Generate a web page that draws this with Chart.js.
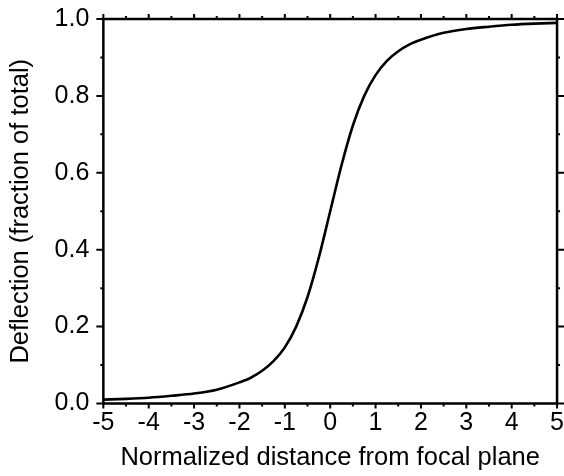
<!DOCTYPE html>
<html>
<head>
<meta charset="utf-8">
<script src="https://cdn.jsdelivr.net/npm/chart.js@4"></script>
<style>
  html, body { margin: 0; padding: 0; background: #fff; }
  #wrap { width: 564px; height: 476px; }
</style>
</head>
<body>
<div id="wrap"><canvas id="chart" width="564" height="476"></canvas></div>
<script>
// distance from focal plane (normalized) and deflection
const distance = [-5, -4.5, -4, -3.5, -3, -2.5, -2, -1.75, -1.5, -1.25, -1, -0.75, -0.5, -0.25,
  0, 0.25, 0.5, 0.75, 1, 1.25, 1.5, 1.75, 2, 2.5, 3, 3.5, 4, 4.5, 5];
const deflection = [0.010, 0.012, 0.015, 0.020, 0.026, 0.036, 0.055, 0.067, 0.085, 0.110, 0.146, 0.200, 0.277, 0.380,
  0.500, 0.620, 0.723, 0.800, 0.854, 0.891, 0.916, 0.934, 0.946, 0.964, 0.974, 0.980, 0.985, 0.988, 0.990];

const xMajor = [-5, -4, -3, -2, -1, 0, 1, 2, 3, 4, 5];
const xMinor = [-4.5, -3.5, -2.5, -1.5, -0.5, 0.5, 1.5, 2.5, 3.5, 4.5];
const yMajor = [0, 0.2, 0.4, 0.6, 0.8, 1.0];
const yMinor = [0.1, 0.3, 0.5, 0.7, 0.9];

const FONT = '"Liberation Sans", Arial, Helvetica, sans-serif';

// frame + outward ticks on all four sides
const frameTicks = {
  id: 'frameTicks',
  afterDraw(chart) {
    const { ctx, chartArea: a, scales: { x, y } } = chart;
    ctx.save();
    ctx.strokeStyle = '#000';
    ctx.lineWidth = 2;
    const tick = (list, len) => {
      list.forEach(v => {
        const px = x.getPixelForValue(v);
        ctx.beginPath();
        ctx.moveTo(px, a.bottom); ctx.lineTo(px, a.bottom + len);
        ctx.moveTo(px, a.top); ctx.lineTo(px, a.top - len);
        ctx.stroke();
      });
    };
    const tickY = (list, len) => {
      list.forEach(v => {
        const py = y.getPixelForValue(v);
        ctx.beginPath();
        ctx.moveTo(a.left, py); ctx.lineTo(a.left - len, py);
        ctx.moveTo(a.right, py); ctx.lineTo(a.right + len, py);
        ctx.stroke();
      });
    };
    tick(xMajor, 5); tick(xMinor, 3);
    tickY(yMajor, 7); tickY(yMinor, 3);
    ctx.lineWidth = 2.5;
    ctx.strokeRect(a.left, a.top, a.right - a.left, a.bottom - a.top);
    ctx.restore();
  }
};

// invisible tick marks are used only to space the labels away from the frame
const hiddenGrid = len => ({ display: true, drawOnChartArea: false, drawTicks: true,
  tickLength: len, tickColor: 'rgba(0,0,0,0)' });

new Chart(document.getElementById('chart'), {
  type: 'scatter',
  data: {
    datasets: [{
      data: distance.map((d, i) => ({ x: d, y: deflection[i] })),
      showLine: true,
      borderColor: '#000',
      borderWidth: 2.6,
      pointRadius: 0,
      cubicInterpolationMode: 'monotone',
    }]
  },
  options: {
    responsive: false,
    animation: false,
    layout: { padding: { left: 6, right: 0, top: 19, bottom: 5 } },
    plugins: { legend: { display: false }, tooltip: { enabled: false } },
    scales: {
      x: {
        type: 'linear', min: -5, max: 5,
        grid: hiddenGrid(7),
        border: { display: false },
        afterBuildTicks: s => { s.ticks = xMajor.map(v => ({ value: v })); },
        ticks: { color: '#000', padding: 0, font: { family: FONT, size: 25, lineHeight: 1 }, maxRotation: 0 },
        title: { display: true, text: 'Normalized distance from focal plane', color: '#000',
                 font: { family: FONT, size: 25.5, lineHeight: 1 }, padding: { top: 10, bottom: 0 } }
      },
      y: {
        min: 0, max: 1,
        grid: hiddenGrid(14),
        border: { display: false },
        afterBuildTicks: s => { s.ticks = yMajor.map(v => ({ value: v })); },
        ticks: { color: '#000', padding: 0, font: { family: FONT, size: 25, lineHeight: 1 },
                 callback: v => v.toFixed(1) },
        title: { display: true, text: 'Deflection (fraction of total)', color: '#000',
                 font: { family: FONT, size: 25.5, lineHeight: 1.2 }, padding: { top: 0, bottom: 18 } }
      }
    }
  },
  plugins: [frameTicks]
});
</script>
</body>
</html>
